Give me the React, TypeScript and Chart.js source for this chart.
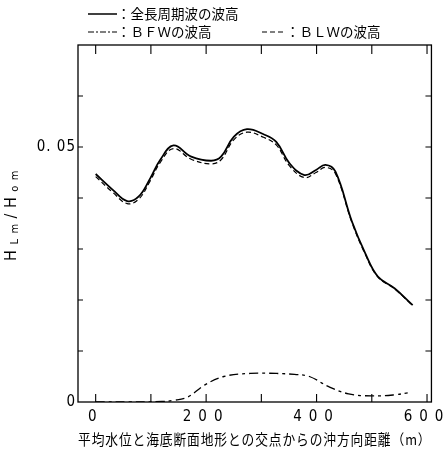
import React, { useEffect, useRef } from "react";
import { Chart, registerables } from "chart.js";

Chart.register(...registerables);

// distance offshore (m) and wave height ratio H_Lm/H_om
const xTotal = [0, 31, 57, 78, 99, 117, 141, 173, 209, 227, 250, 274, 304, 327, 351, 378, 399, 416, 434, 464, 488, 511, 541, 574];
const yTotal = [0.0447, 0.0416, 0.0394, 0.0403, 0.0439, 0.0475, 0.0503, 0.0481, 0.0473, 0.0481, 0.052, 0.0535, 0.0525, 0.051, 0.0468, 0.0445, 0.0455, 0.0465, 0.0452, 0.0354, 0.0292, 0.0246, 0.0223, 0.019];
const yBLW = [0.0442, 0.0411, 0.0389, 0.0398, 0.0434, 0.047, 0.0497, 0.0476, 0.0467, 0.0475, 0.0514, 0.0529, 0.0519, 0.0504, 0.0463, 0.044, 0.045, 0.046, 0.0448, 0.0352, 0.029, 0.0245, 0.0222, 0.0189];
const xBFW = [0, 60, 120, 140, 167, 197, 232, 280, 327, 360, 387, 422, 458, 499, 541, 565];
const yBFW = [0.0, 0.0, 0.0001, 0.0003, 0.001, 0.0033, 0.005, 0.0056, 0.0056, 0.0054, 0.005, 0.003, 0.0016, 0.0012, 0.0014, 0.0018];

const xLabelTicks = [0, 200, 400, 600];
const yLabelTicks = [0, 0.05];
const xMinorTicks = [0, 100, 200, 300, 400, 500, 600];
const yMinorTicks = [0.01, 0.02, 0.03, 0.04, 0.05, 0.06];

const legendTotal = "：全長周期波の波高";
const legendBFW = "：ＢＦＷの波高";
const legendBLW = "：ＢＬＷの波高";
const xTitle = "平均水位と海底断面地形との交点からの沖方向距離（m）";

const CJK = '"Noto Sans CJK JP", sans-serif';
const NUM = '"Liberation Sans Narrow", "DejaVu Sans Condensed", "DejaVu Sans", sans-serif';

const decorPlugin = {
  id: "decor",
  beforeDraw(chart: any) {
    (chart.ctx as any).letterSpacing = "1px";
  },
  afterDatasetsDraw(chart: any) {
    (chart.ctx as any).letterSpacing = "7px";
  },
  afterDraw(chart: any) {
    const ctx = chart.ctx;
    const { left, right, top, bottom } = chart.chartArea;
    const xs = chart.scales.x;
    const ys = chart.scales.y;
    ctx.save();
    (ctx as any).letterSpacing = "0px";
    ctx.strokeStyle = "#000";
    ctx.lineWidth = 1.3;
    ctx.setLineDash([]);
    ctx.strokeRect(left, top, right - left, bottom - top);
    ctx.lineWidth = 1.1;
    ctx.beginPath();
    for (const v of xMinorTicks) {
      const px = xs.getPixelForValue(v);
      ctx.moveTo(px, bottom);
      ctx.lineTo(px, bottom - 8);
      ctx.moveTo(px, top);
      ctx.lineTo(px, top + 9);
    }
    for (const v of yMinorTicks) {
      const py = ys.getPixelForValue(v);
      ctx.moveTo(left, py);
      ctx.lineTo(left + 5, py);
      ctx.moveTo(right, py);
      ctx.lineTo(right - 6, py);
    }
    ctx.stroke();

    // legend
    ctx.fillStyle = "#000";
    ctx.textBaseline = "middle";
    ctx.textAlign = "left";
    ctx.font = "13.5px " + CJK;
    ctx.lineWidth = 1.5;
    ctx.beginPath();
    ctx.moveTo(88, 14);
    ctx.lineTo(117, 14);
    ctx.stroke();
    ctx.fillText(legendTotal, 117, 14);
    ctx.lineWidth = 1.1;
    ctx.setLineDash([6, 2, 2, 2]);
    ctx.beginPath();
    ctx.moveTo(88, 32);
    ctx.lineTo(117, 32);
    ctx.stroke();
    ctx.setLineDash([]);
    ctx.fillText(legendBFW, 117, 32);
    ctx.setLineDash([5, 3]);
    ctx.beginPath();
    ctx.moveTo(262, 32);
    ctx.lineTo(286, 32);
    ctx.stroke();
    ctx.setLineDash([]);
    ctx.fillText(legendBLW, 286, 32);

    // y title H_Lm / H_om
    ctx.translate(12, 213);
    ctx.rotate(-Math.PI / 2);
    (ctx as any).letterSpacing = "5.5px";
    const big = "16px " + NUM;
    const small = "11px " + NUM;
    const parts: [string, string, number][] = [
      ["H", big, 0],
      ["Lm", small, 3],
      ["/", big, 0],
      ["H", big, 0],
      ["om", small, 3],
    ];
    let total = 0;
    for (const [t, f] of parts) {
      ctx.font = f;
      total += ctx.measureText(t).width;
    }
    let cx = -total / 2;
    for (const [t, f, dy] of parts) {
      ctx.font = f;
      ctx.fillText(t, cx, dy);
      cx += ctx.measureText(t).width;
    }
    ctx.restore();
  },
};

export default function App() {
  const ref = useRef<HTMLCanvasElement | null>(null);
  useEffect(() => {
    if (!ref.current) return;
    Chart.defaults.color = "#000";
    const chart = new Chart(ref.current, {
      type: "line",
      data: {
        datasets: [
          {
            label: "全長周期波の波高",
            data: xTotal.map((x, i) => ({ x, y: yTotal[i] })),
            borderColor: "#000",
            borderWidth: 1.8,
            pointRadius: 0,
            tension: 0.4,
          },
          {
            label: "BLWの波高",
            data: xTotal.map((x, i) => ({ x, y: yBLW[i] })),
            borderColor: "#000",
            borderWidth: 1.2,
            borderDash: [5, 3],
            pointRadius: 0,
            tension: 0.4,
          },
          {
            label: "BFWの波高",
            data: xBFW.map((x, i) => ({ x, y: yBFW[i] })),
            borderColor: "#000",
            borderWidth: 1.3,
            borderDash: [9, 4, 3, 4],
            pointRadius: 0,
            tension: 0.4,
          },
        ],
      },
      options: {
        animation: false,
        responsive: true,
        maintainAspectRatio: false,
        layout: { padding: { left: 0, right: 8, top: 45, bottom: 0 } },
        plugins: { legend: { display: false }, tooltip: { enabled: false } },
        scales: {
          x: {
            type: "linear",
            min: -32,
            max: 608,
            grid: { display: false, drawTicks: false },
            border: { display: false },
            afterBuildTicks: (s: any) => {
              s.ticks = xLabelTicks.map((v) => ({ value: v }));
            },
            afterFit: (s: any) => {
              s.height = 49;
            },
            ticks: {
              z: 1,
              autoSkip: false,
              maxRotation: 0,
              padding: 6,
              font: { family: NUM, size: 15 },
              color: "#000",
              callback: (v: any) => String(v),
            },
            title: {
              display: true,
              text: xTitle,
              font: { family: CJK, size: 14.5 },
              color: "#000",
              padding: { top: 0, bottom: 3 },
            },
          },
          y: {
            type: "linear",
            min: 0,
            max: 0.07,
            grid: { display: false, drawTicks: false },
            border: { display: false },
            afterBuildTicks: (s: any) => {
              s.ticks = yLabelTicks.map((v) => ({ value: v }));
            },
            afterFit: (s: any) => {
              s.width = 78;
            },
            ticks: {
              autoSkip: false,
              padding: 2,
              font: { family: NUM, size: 15 },
              color: "#000",
              callback: (v: any) => (v === 0 ? "0" : "0. 05"),
            },
          },
        },
      },
      plugins: [decorPlugin],
    } as any);
    return () => chart.destroy();
  }, []);
  return (
    <div style={{ position: "absolute", left: 0, top: 0, width: 446, height: 451, background: "#fff" }}>
      <canvas ref={ref} />
    </div>
  );
}
